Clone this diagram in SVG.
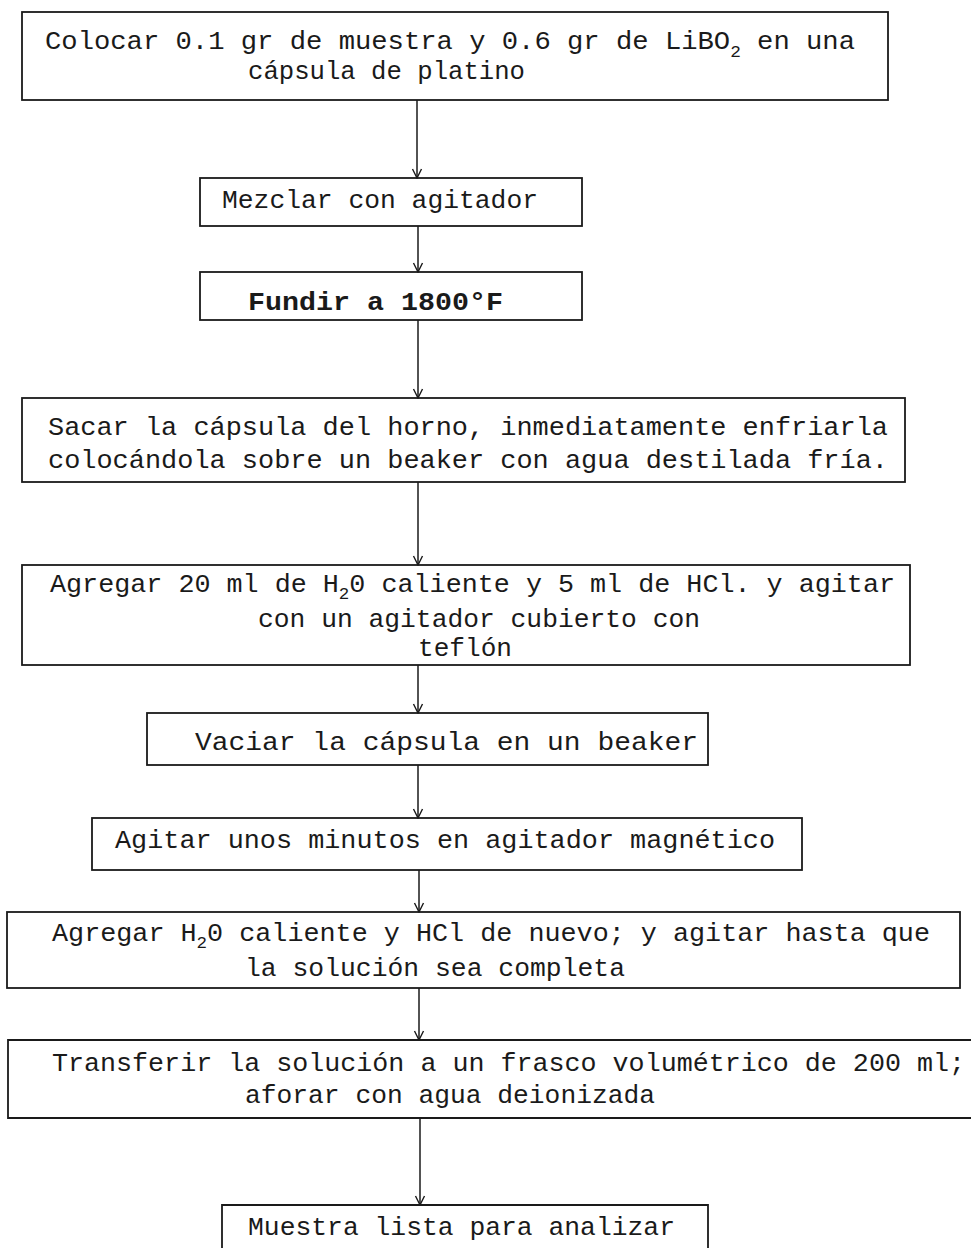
<svg xmlns="http://www.w3.org/2000/svg" width="971" height="1248" viewBox="0 0 971 1248">
  <style>
    .box { fill: none; stroke: #1a1a1a; stroke-width: 1.8; }
    .lbl { font-family: "Liberation Mono", "DejaVu Sans Mono", monospace; font-size: 26px; fill: #1a1a1a; }
    .sub { font-size: 17px; }
    .wire { stroke: #1a1a1a; stroke-width: 1.5; fill: none; marker-end: url(#tip); }
  </style>
  <defs>
    <!-- open chevron arrowhead, x axis along the connector -->
    <marker id="tip" viewBox="0 0 12 12" refX="11" refY="6" markerWidth="12" markerHeight="12" markerUnits="userSpaceOnUse" orient="auto">
      <path d="M2,1.5 L11,6 L2,10.5" fill="none" stroke="#1a1a1a" stroke-width="1.4"/>
    </marker>
  </defs>
  <rect width="971" height="1248" fill="#ffffff"/>

  <!-- connectors -->
  <g id="connectors">
    <line class="wire" x1="417" y1="100" x2="417" y2="178"/>
    <line class="wire" x1="418" y1="226" x2="418" y2="272"/>
    <line class="wire" x1="418" y1="320" x2="418" y2="398"/>
    <line class="wire" x1="418" y1="482" x2="418" y2="565"/>
    <line class="wire" x1="418" y1="665" x2="418" y2="713"/>
    <line class="wire" x1="418" y1="765" x2="418" y2="818"/>
    <line class="wire" x1="419" y1="870" x2="419" y2="912"/>
    <line class="wire" x1="419" y1="988" x2="419" y2="1040"/>
    <line class="wire" x1="420" y1="1118" x2="420" y2="1205"/>
  </g>

  <g id="n1">
    <rect class="box" x="22" y="12" width="866" height="88"/>
    <text class="lbl" x="45" y="49" textLength="810" lengthAdjust="spacingAndGlyphs">Colocar 0.1 gr de muestra  y 0.6 gr de LiBO<tspan class="sub" dy="8">2</tspan><tspan dy="-8"> en una</tspan></text>
    <text class="lbl" x="248" y="79" textLength="277" lengthAdjust="spacingAndGlyphs">cápsula de platino</text>
  </g>

  <g id="n2">
    <rect class="box" x="200" y="178" width="382" height="48"/>
    <text class="lbl" x="222" y="208" textLength="316" lengthAdjust="spacingAndGlyphs">Mezclar con agitador</text>
  </g>

  <g id="n3">
    <rect class="box" x="200" y="272" width="382" height="48"/>
    <text class="lbl" x="248" y="310" textLength="255" lengthAdjust="spacingAndGlyphs" font-weight="bold">Fundir a  1800°F</text>
  </g>

  <g id="n4">
    <rect class="box" x="22" y="398" width="883" height="84"/>
    <text class="lbl" x="48" y="435" textLength="840" lengthAdjust="spacingAndGlyphs">Sacar la cápsula del horno, inmediatamente enfriarla</text>
    <text class="lbl" x="48" y="468" textLength="840" lengthAdjust="spacingAndGlyphs">colocándola sobre un beaker con agua destilada fría.</text>
  </g>

  <g id="n5">
    <rect class="box" x="22" y="565" width="888" height="100"/>
    <text class="lbl" x="50" y="592" textLength="845" lengthAdjust="spacingAndGlyphs">Agregar 20 ml de H<tspan class="sub" dy="7">2</tspan><tspan dy="-7">0 caliente y 5 ml de HCl. y agitar</tspan></text>
    <text class="lbl" x="258" y="627" textLength="442" lengthAdjust="spacingAndGlyphs">con un agitador cubierto con</text>
    <text class="lbl" x="418" y="656" textLength="94" lengthAdjust="spacingAndGlyphs">teflón</text>
  </g>

  <g id="n6">
    <rect class="box" x="147" y="713" width="561" height="52"/>
    <text class="lbl" x="195" y="750" textLength="503" lengthAdjust="spacingAndGlyphs">Vaciar la cápsula en un beaker</text>
  </g>

  <g id="n7">
    <rect class="box" x="92" y="818" width="710" height="52"/>
    <text class="lbl" x="115" y="848" textLength="660" lengthAdjust="spacingAndGlyphs">Agitar unos minutos en agitador magnético</text>
  </g>

  <g id="n8">
    <rect class="box" x="7" y="912" width="953" height="76"/>
    <text class="lbl" x="52" y="941" textLength="878" lengthAdjust="spacingAndGlyphs">Agregar H<tspan class="sub" dy="7">2</tspan><tspan dy="-7">0 caliente y HCl de nuevo; y agitar hasta que</tspan></text>
    <text class="lbl" x="245" y="976" textLength="380" lengthAdjust="spacingAndGlyphs">la solución sea completa</text>
  </g>

  <g id="n9">
    <path class="box" d="M971,1040 H8 V1118 H971"/>
    <text class="lbl" x="52" y="1071" textLength="913" lengthAdjust="spacingAndGlyphs">Transferir la solución a un frasco volumétrico de 200 ml;</text>
    <text class="lbl" x="245" y="1103" textLength="410" lengthAdjust="spacingAndGlyphs">aforar con agua deionizada</text>
  </g>

  <g id="n10">
    <path class="box" d="M222,1252 V1205 H708 V1252"/>
    <text class="lbl" x="248" y="1235" textLength="427" lengthAdjust="spacingAndGlyphs">Muestra lista para analizar</text>
  </g>
</svg>
